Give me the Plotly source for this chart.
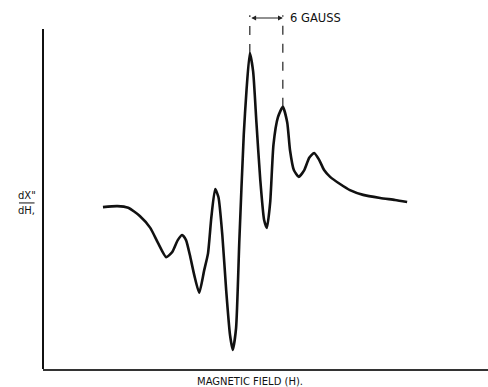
import plotly.graph_objects as go

# Magnetic field (gauss, arbitrary origin) and derivative signal dX''/dH (arbitrary units)
field = [10.9, 13.5, 15.5, 17.6, 19.5, 20.9, 22.4, 23.5, 24.5, 25.3, 26.0, 26.7, 27.5, 28.4,
         29.3, 30.0, 30.6, 31.3, 31.9, 32.6, 33.3, 34.0, 34.5, 35.1, 35.7, 36.5,
         37.0, 37.6, 38.2, 38.8, 39.5, 40.2, 40.7, 41.3, 41.9, 42.7, 43.6, 44.4, 44.9, 45.6,
         46.5, 47.5, 48.4, 49.3, 50.2, 51.1, 52.2, 54.0, 55.8, 58.2, 61.3, 64.0, 66.2]
signal = [47.6, 47.9, 47.4, 45.0, 41.5, 37.1, 32.9, 34.4, 37.9, 39.4, 37.9, 33.5, 27.6, 22.4,
          29.0, 34.0, 44.5, 52.9, 50.5, 39.4, 23.2, 10.0, 5.6, 12.0, 38.0, 69.0,
          82.0, 92.9, 87.5, 72.5, 55.6, 43.8, 41.5, 49.0, 66.0, 74.0, 77.1, 72.5, 64.4, 58.5,
          56.5, 58.5, 62.1, 63.5, 61.5, 58.5, 56.5, 54.4, 52.6, 51.2, 50.3, 49.7, 49.1]

# 6-gauss spacing markers (peak positions and heights)
mark_x = [37.6, 43.6]
mark_peak = [92.9, 77.1]
gauss_label = "6 GAUSS"
x_title = "MAGNETIC FIELD (H)."

fig = go.Figure()
fig.add_trace(go.Scatter(x=field, y=signal, mode="lines",
                         line=dict(color="#111111", width=2.6, shape="spline", smoothing=0.55),
                         hoverinfo="skip", showlegend=False))

top = 104.0
for mx, mp in zip(mark_x, mark_peak):
    fig.add_shape(type="line", xref="x", yref="y", x0=mx, x1=mx, y0=mp, y1=top,
                  line=dict(color="#222222", width=1.2, dash="dash"))

fig.add_annotation(x=mark_x[1], y=103.2, ax=mark_x[0], ay=103.2, xref="x", yref="y",
                   axref="x", ayref="y", text="", showarrow=True, arrowside="end+start",
                   arrowhead=2, arrowsize=0.8, arrowwidth=1.2, arrowcolor="#222222")
fig.add_annotation(x=mark_x[1] + 0.9, y=103.2, xref="x", yref="y", text=gauss_label,
                   showarrow=False, xanchor="left", yanchor="middle",
                   font=dict(family="DejaVu Sans", size=11.5, color="#111111"))

# y-axis label as a fraction (paper coordinates, left of the plot area)
fig.add_annotation(x=-0.036, y=0.470, xref="paper", yref="paper", text="dX\"", showarrow=False,
                   xanchor="center", yanchor="middle",
                   font=dict(family="DejaVu Sans", size=10, color="#111111"))
fig.add_annotation(x=-0.036, y=0.430, xref="paper", yref="paper", text="dH,", showarrow=False,
                   xanchor="center", yanchor="middle",
                   font=dict(family="DejaVu Sans", size=10, color="#111111"))
fig.add_shape(type="line", xref="paper", yref="paper", x0=-0.054, x1=-0.019, y0=0.450, y1=0.450,
              line=dict(color="#111111", width=1))

# left axis line
fig.add_shape(type="line", xref="paper", yref="y", x0=0, x1=0, y0=0, y1=100,
              line=dict(color="#111111", width=2))

fig.add_annotation(x=0.465, y=-0.033, xref="paper", yref="paper", text=x_title, showarrow=False,
                   xanchor="center", yanchor="middle",
                   font=dict(family="DejaVu Sans", size=10, color="#111111"))

fig.update_layout(
    width=488, height=387, margin=dict(l=43, r=0, t=0, b=18),
    paper_bgcolor="white", plot_bgcolor="white",
    xaxis=dict(range=[0, 80.9], showgrid=False, zeroline=False, showticklabels=False,
               ticks="", showline=True, linecolor="#333333", linewidth=1.5),
    yaxis=dict(range=[0, 108.5], showgrid=False, zeroline=False, showticklabels=False,
               ticks="", showline=False),
)
fig.write_html("out.html")
